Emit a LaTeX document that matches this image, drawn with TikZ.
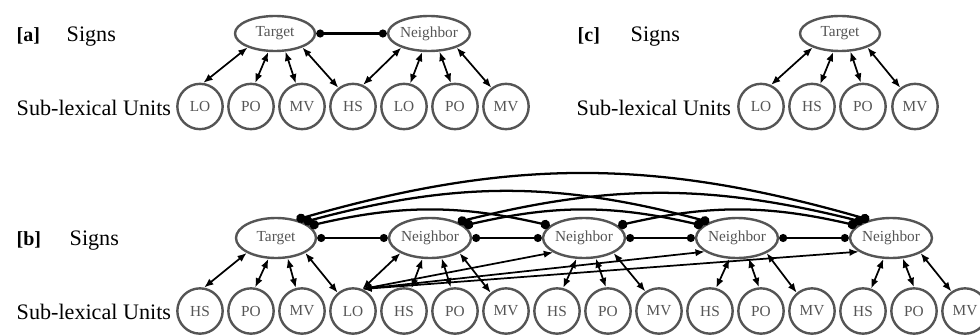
\documentclass[tikz,border=0pt]{standalone}
\usepackage{fontspec}
\setmainfont{Liberation Serif}
\usetikzlibrary{arrows.meta,shapes.geometric}
\definecolor{nodegray}{RGB}{85,85,85}

\begin{document}
\begin{tikzpicture}[x=0.75pt, y=-0.75pt,
  sign/.style={
    ellipse, draw=nodegray, line width=1.8pt,
    minimum width=60pt, minimum height=26.25pt, inner sep=0pt,
    text=nodegray, font=\fontsize{11.5}{13}\selectfont
  },
  signb/.style={sign, minimum height=30pt},
  subunit/.style={
    circle, draw=nodegray, line width=1.8pt,
    minimum size=34pt, inner sep=0pt,
    text=nodegray, font=\fontsize{11.5}{13}\selectfont
  },
  lbl/.style={anchor=base west, font=\fontsize{16.6}{20}\selectfont},
  paneltag/.style={anchor=base west, font=\fontsize{15}{18}\selectfont\bfseries},
  conn/.style={{Latex[length=7pt,width=5.5pt]}-{Latex[length=7pt,width=5.5pt]}, line width=1.3pt},
  link/.style={{Circle[length=6pt]}-{Circle[length=6pt]}, line width=1.6pt},
  farlink/.style={{Circle[length=7pt]}-{Circle[length=7pt]}, line width=1.7pt}
]
\clip (0,0) rectangle (980,335);

% panel a
\node[paneltag] (taga) at (12,41) {[a]};
\node[lbl] (signsa) at (62,41) {Signs};
\node[lbl] (unitsa) at (12,115) {Sub-lexical Units};
\node[sign] (ta) at (275,33.5) {Target};
\node[sign] (na) at (429,33.5) {Neighbor};
\node[subunit] (la1) at (200,106.5) {LO};
\node[subunit] (pa1) at (251,106.5) {PO};
\node[subunit] (ma1) at (302,106.5) {MV};
\node[subunit] (ha)  at (353,106.5) {HS};
\node[subunit] (la2) at (404,106.5) {LO};
\node[subunit] (pa2) at (455,106.5) {PO};
\node[subunit] (ma2) at (506,106.5) {MV};

\draw[link] (ta) -- (na);
\draw[conn] (la1.82)  -- (ta.207);
\draw[conn] (pa1.80)  -- (ta.250);
\draw[conn] (ma1.105) -- (ta.300);
\draw[conn] (ha.128)  -- (ta.333);
\draw[conn] (ha.65)   -- (na.207);
\draw[conn] (la2.75)  -- (na.250);
\draw[conn] (pa2.100) -- (na.300);
\draw[conn] (ma2.128) -- (na.333);

% panel c
\node[paneltag] (tagc) at (573,41) {[c]};
\node[lbl] (signsc) at (626,41) {Signs};
\node[lbl] (unitsc) at (572,115) {Sub-lexical Units};
\node[sign] (tc) at (840,33.5) {Target};
\node[subunit] (lc) at (761,106.5) {LO};
\node[subunit] (hc) at (812,106.5) {HS};
\node[subunit] (pc) at (863,106.5) {PO};
\node[subunit] (mc) at (915,106.5) {MV};

\draw[conn] (lc.65)  -- (tc.207);
\draw[conn] (hc.70)  -- (tc.250);
\draw[conn] (pc.95)  -- (tc.300);
\draw[conn] (mc.128) -- (tc.333);

% panel b
\node[paneltag] (tagb) at (12,245) {[b]};
\node[lbl] (signsb) at (65,245) {Signs};
\node[lbl] (unitsb) at (12,319) {Sub-lexical Units};
\node[signb] (tb)  at (276,238) {Target};
\node[signb] (nb1) at (430,238) {Neighbor};
\node[signb] (nb2) at (584,238) {Neighbor};
\node[signb] (nb3) at (737,238) {Neighbor};
\node[signb] (nb4) at (891,238) {Neighbor};

\node[subunit] (hb0) at (200,311) {HS};
\node[subunit] (pb0) at (251,311) {PO};
\node[subunit] (mb0) at (302,311) {MV};
\node[subunit] (lb)  at (353,311) {LO};
\node[subunit] (hb1) at (404,311) {HS};
\node[subunit] (pb1) at (455,311) {PO};
\node[subunit] (mb1) at (506,311) {MV};
\node[subunit] (hb2) at (557,311) {HS};
\node[subunit] (pb2) at (608,311) {PO};
\node[subunit] (mb2) at (659,311) {MV};
\node[subunit] (hb3) at (710,311) {HS};
\node[subunit] (pb3) at (761,311) {PO};
\node[subunit] (mb3) at (812,311) {MV};
\node[subunit] (hb4) at (863,311) {HS};
\node[subunit] (pb4) at (914,311) {PO};
\node[subunit] (mb4) at (965,311) {MV};

\draw[link] (tb) -- (nb1);
\draw[link] (nb1) -- (nb2);
\draw[link] (nb2) -- (nb3);
\draw[link] (nb3) -- (nb4);

\draw[farlink] (tb.20)  to[bend left=13] (nb2.160);
\draw[farlink] (tb.30)  to[bend left=15] (nb3.150);
\draw[farlink] (tb.42)  to[bend left=16] (nb4.140);
\draw[farlink] (nb1.20) to[bend left=13] (nb3.160);
\draw[farlink] (nb1.30) to[bend left=14] (nb4.150);
\draw[farlink] (nb2.20) to[bend left=13] (nb4.160);

\draw[conn] (hb0.80)  -- (tb.207);
\draw[conn] (pb0.80)  -- (tb.250);
\draw[conn] (mb0.105) -- (tb.300);
\draw[conn] (lb.130)  -- (tb.333);

\draw[conn] (lb.67)   -- (nb1.207);
\draw[conn] (hb1.72)  -- (nb1.250);
\draw[conn] (pb1.100) -- (nb1.300);
\draw[conn] (mb1.130) -- (nb1.333);

\draw[conn] (lb.67)   -- (nb2.205);
\draw[conn] (hb2.75)  -- (nb2.250);
\draw[conn] (pb2.95)  -- (nb2.300);
\draw[conn] (mb2.125) -- (nb2.333);

\draw[conn] (lb.67)   -- (nb3.203);
\draw[conn] (hb3.75)  -- (nb3.250);
\draw[conn] (pb3.95)  -- (nb3.300);
\draw[conn] (mb3.130) -- (nb3.333);

\draw[conn] (lb.67)   -- (nb4.203);
\draw[conn] (hb4.70)  -- (nb4.250);
\draw[conn] (pb4.90)  -- (nb4.300);
\draw[conn] (mb4.125) -- (nb4.333);
\end{tikzpicture}
\end{document}
